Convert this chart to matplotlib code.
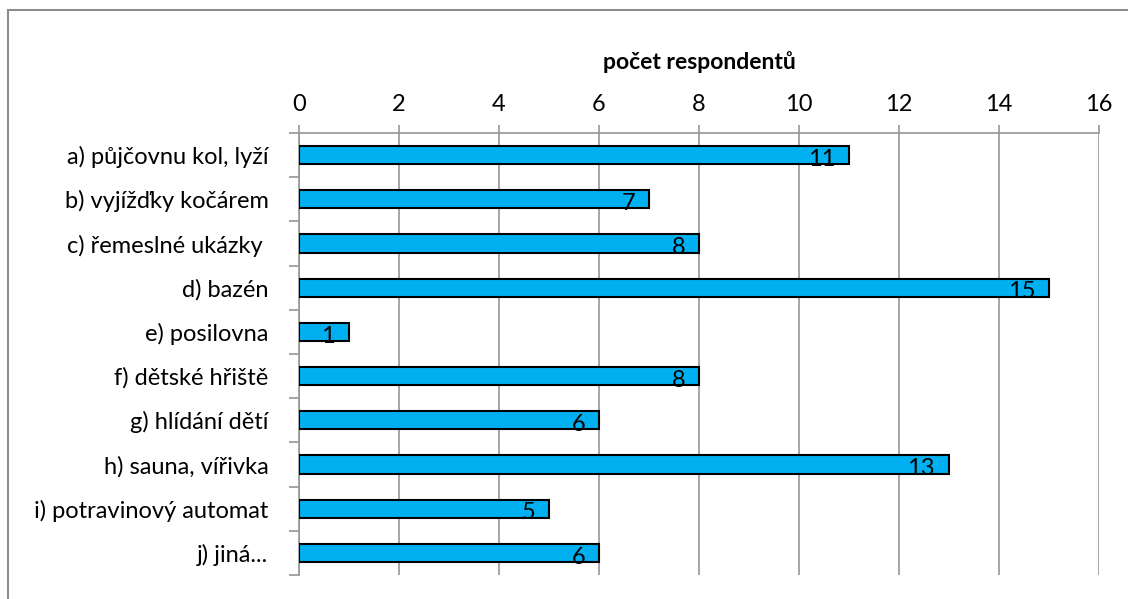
import matplotlib
matplotlib.use("Agg")
import matplotlib.pyplot as plt
from matplotlib.patches import Rectangle

plt.rcParams['font.family'] = ['Lato', 'DejaVu Sans']

# data
kategorie = ["a) půjčovnu kol, lyží", "b) vyjížďky kočárem", "c) řemeslné ukázky ",
             "d) bazén", "e) posilovna", "f) dětské hřiště", "g) hlídání dětí",
             "h) sauna, vířivka", "i) potravinový automat", "j) jiná..."]
pocty = [11, 7, 8, 15, 1, 8, 6, 13, 5, 6]
x_ticks = [0, 2, 4, 6, 8, 10, 12, 14, 16]

fig = plt.figure(figsize=(11.28, 5.99), dpi=100)
ax = fig.add_axes([0.2651, 0.040, 0.7092, 0.738])

pos = list(range(len(kategorie)))
ax.barh(pos, pocty, height=0.41, color="#00B0F0", edgecolor="black", linewidth=1.5, zorder=3)

for p, v in zip(pos, pocty):
    ax.annotate(str(v), (v, p), xytext=(-10, -3), textcoords="offset points",
                ha="right", va="center", fontsize=17, color="black", zorder=4)

ax.set_xlim(0, 16)
ax.set_ylim(len(kategorie) - 0.5, -0.5)
ax.xaxis.tick_top()
ax.xaxis.set_label_position("top")
ax.set_xticks(x_ticks)
ax.set_xticklabels([str(t) for t in x_ticks], fontsize=17)
ax.set_xlabel("počet respondentů", fontsize=16.5, fontweight="bold", labelpad=18)
ax.tick_params(axis="x", length=6, color="#969696", width=1.2, pad=7)

ax.set_yticks(pos)
ax.set_yticklabels(kategorie, fontsize=17)
ax.set_yticks([p - 0.5 for p in pos] + [len(pos) - 0.5], minor=True)
ax.tick_params(axis="y", which="major", length=0, pad=22)
ax.tick_params(axis="y", which="minor", length=7, color="#969696", width=1.2)

ax.grid(axis="x", color="#969696", linewidth=1.2, zorder=0)
for s in ["right", "bottom"]:
    ax.spines[s].set_visible(False)
for s in ["top", "left"]:
    ax.spines[s].set_color("#969696")
    ax.spines[s].set_linewidth(1.2)

# outer chart frame
fig.patches.append(Rectangle((8 / 1128, -0.05), 1.2, 1 - 10 / 599 + 0.05,
                             transform=fig.transFigure, fill=False,
                             edgecolor="#8c8c8c", linewidth=1.5))

fig.savefig("out.png", dpi=100)
